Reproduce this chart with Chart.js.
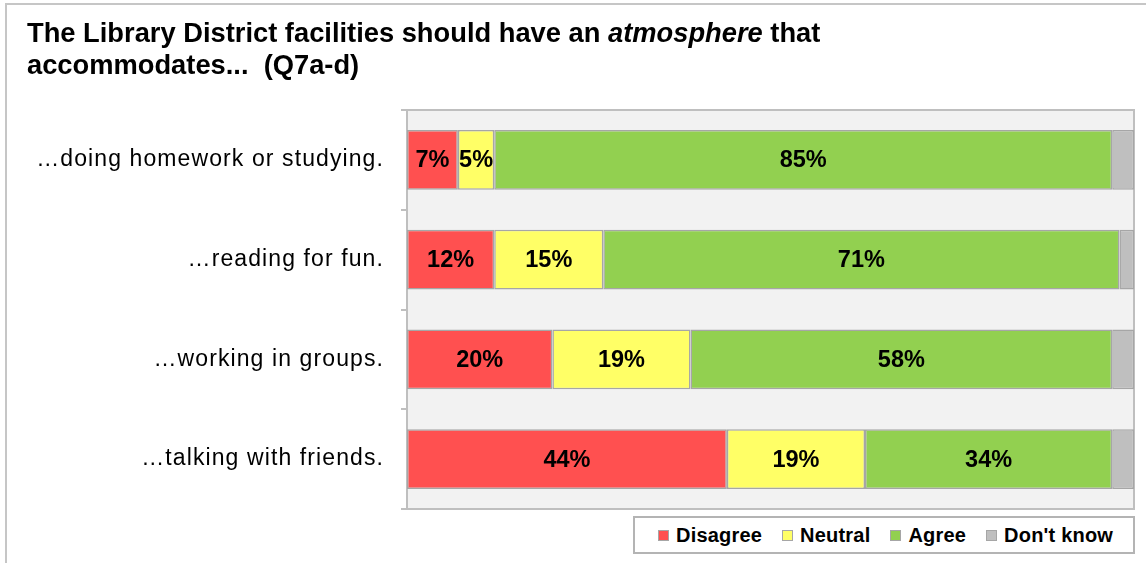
<!DOCTYPE html>
<html>
<head>
<meta charset="utf-8">
<script src="https://cdn.jsdelivr.net/npm/chart.js@4.4.1/dist/chart.umd.min.js"></script>
<style>
  html, body { margin: 0; padding: 0; background: #fff; overflow: hidden; }
  #wrap { position: relative; width: 1146px; height: 563px; overflow: hidden; font-family: "Liberation Sans", Arial, sans-serif; }
  #frame { position: absolute; left: 5px; top: 3px; width: 1200px; height: 620px; border: 2px solid #c6c6c6; box-sizing: border-box; }
  #chart { position: absolute; left: 0; top: 0; }
  #title { position: absolute; left: 27px; top: 17px; font-weight: bold; font-size: 27.3px; line-height: 32px; color: #000; white-space: pre; }
  #legend { position: absolute; left: 633px; top: 516px; width: 502px; height: 38px; box-sizing: border-box; border: 2px solid #b4b4b4; background: #fff;
            display: flex; align-items: center; padding-left: 23px; font-weight: bold; font-size: 20px; letter-spacing: 0.2px; color: #000; white-space: nowrap; }
  .item { display: flex; align-items: center; flex-shrink: 0; margin-right: 20px; }
  .item:last-child { margin-right: 0; }
  .sw { width: 9px; height: 9px; border: 1px solid #a6a6a6; margin-right: 7px; }
</style>
</head>
<body>
<div id="wrap">
  <div id="frame"></div>
  <canvas id="chart" width="1146" height="563"></canvas>
  <div id="title">The Library District facilities should have an <i>atmosphere</i> that
accommodates...  (Q7a-d)</div>
  <div id="legend"></div>
</div>
<script>
// survey answers, % of respondents
const categories = ["\u2026doing homework or studying.", "\u2026reading for fun.", "\u2026working in groups.", "\u2026talking with friends."];
const seriesNames = ["Disagree", "Neutral", "Agree", "Don't know"];
const disagree = [7, 12, 20, 44];
const neutral = [5, 15, 19, 19];
const agree = [85, 71, 58, 34];
const dontKnow = [3, 2, 3, 3];
const colors = ["#ff5050", "#ffff66", "#92d050", "#bfbfbf"];

const FONT = '"Liberation Sans", Arial, sans-serif';

// grey plot background + outline
const plotBg = {
  id: "plotBg",
  beforeDraw(chart) {
    const { ctx, chartArea: a } = chart;
    ctx.save();
    ctx.fillStyle = "#f2f2f2";
    ctx.fillRect(a.left, a.top, a.right - a.left, a.bottom - a.top);
    ctx.strokeStyle = "#bfbfbf";
    ctx.lineWidth = 2;
    ctx.strokeRect(a.left, a.top, a.right - a.left, a.bottom - a.top);
    ctx.restore();

    // category labels are drawn a bit spread out
    const y = chart.scales.y;
    if (!y._spaced) {
      const orig = y.drawLabels;
      y.drawLabels = function (area) {
        const prev = this.ctx.letterSpacing;
        this.ctx.letterSpacing = "1.1px";
        orig.call(this, area);
        this.ctx.letterSpacing = prev || "0px";
      };
      y._spaced = true;
    }
  }
};

// percentage text in the middle of each segment
const barLabels = {
  id: "barLabels",
  afterDatasetsDraw(chart) {
    const ctx = chart.ctx;
    ctx.save();
    ctx.font = "bold 23.5px " + FONT;
    ctx.fillStyle = "#000";
    ctx.textAlign = "center";
    ctx.textBaseline = "middle";
    chart.data.datasets.forEach((ds, i) => {
      if (!ds.showValues) return;
      chart.getDatasetMeta(i).data.forEach((bar, j) => {
        const p = bar.getCenterPoint();
        ctx.fillText(ds.data[j] + "%", p.x, p.y + 1);
      });
    });
    ctx.restore();
  }
};

const values = [disagree, neutral, agree, dontKnow];
const datasets = values.map((d, i) => ({
  label: seriesNames[i],
  data: d,
  backgroundColor: colors[i],
  borderColor: "#a6a6a6",
  borderWidth: 1.5,
  borderSkipped: false,
  barPercentage: 0.6,
  categoryPercentage: 1,
  showValues: i < 3
}));

new Chart(document.getElementById("chart"), {
  type: "bar",
  data: { labels: categories, datasets: datasets },
  options: {
    indexAxis: "y",
    responsive: false,
    animation: false,
    layout: { padding: { top: 110, bottom: 54, right: 12, left: 0 } },
    scales: {
      x: { stacked: true, min: 0, max: 100, display: false },
      y: {
        stacked: true,
        grid: { offset: true, drawOnChartArea: false, tickLength: 6, color: "#bfbfbf", lineWidth: 2 },
        border: { color: "#bfbfbf", width: 2 },
        ticks: { color: "#000", padding: 17, font: { family: FONT, size: 23 } },
        afterFit(scale) { scale.width = 407; }
      }
    },
    plugins: { legend: { display: false }, tooltip: { enabled: false } }
  },
  plugins: [plotBg, barLabels]
});

// legend box
const legend = document.getElementById("legend");
seriesNames.forEach((name, i) => {
  const item = document.createElement("div");
  item.className = "item";
  item.innerHTML = `<span class="sw" style="background:${colors[i]}"></span><span>${name}</span>`;
  legend.appendChild(item);
});
</script>
</body>
</html>
